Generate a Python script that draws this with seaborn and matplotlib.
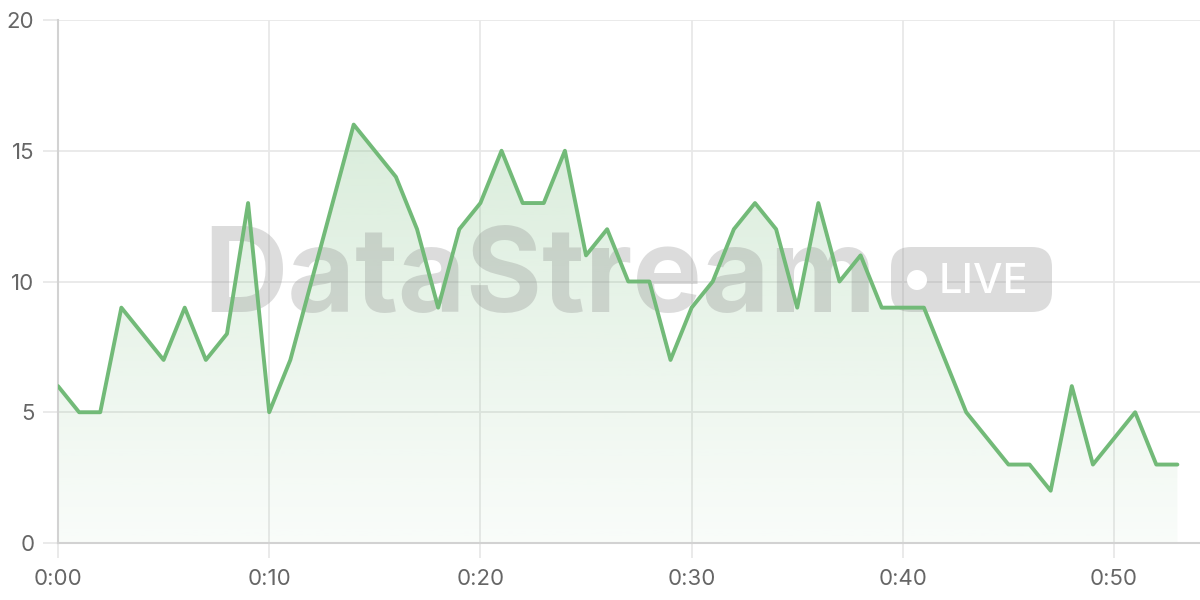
import seaborn as sns
import matplotlib.pyplot as plt
import matplotlib.ticker as mticker
from matplotlib.patches import FancyBboxPatch, Circle
import matplotlib.colors as mcolors
import numpy as np

sns.set_theme(style="white")
plt.rcParams['font.family'] = ['Inter', 'DejaVu Sans']

# data: value per minute
minutes = list(range(54))
values = [6, 5, 5, 9, 8, 7, 9, 7, 8, 13,
          5, 7, 10, 13, 16, 15, 14, 12, 9, 12,
          13, 15, 13, 13, 15, 11, 12, 10, 10, 7,
          9, 10, 12, 13, 12, 9, 13, 10, 11, 9,
          9, 9, 7, 5, 4, 3, 3, 2, 6, 3,
          4, 5, 3, 3]
x_ticks = [0, 10, 20, 30, 40, 50]
y_ticks = [0, 5, 10, 15, 20]

line_color = '#72ba78'
grid_color = '#e8e8e8'

fig = plt.figure(figsize=(12, 6), dpi=100)
ax = fig.add_axes([58 / 1200, 57 / 600, 1 - 58 / 1200, 523 / 600])

# gradient fill under the line
rgb = mcolors.to_rgb(line_color)
alphas = np.linspace(0.04, 0.32, 256)
img = np.zeros((256, 1, 4))
img[:, 0, :3] = rgb
img[:, 0, 3] = alphas
im = ax.imshow(img, extent=[0, 53, 0, 20], origin='lower', aspect='auto', zorder=1)
poly = ax.fill_between(minutes, values, 0, color='none', linewidth=0)
im.set_clip_path(poly.get_paths()[0], transform=ax.transData)

sns.lineplot(x=minutes, y=values, color=line_color, linewidth=2.8, ax=ax, zorder=3)

# watermark
wm_color = (0.5, 0.5, 0.5, 0.27)
ax.text(5.40, 2.88, 'DataStream', transform=fig.dpi_scale_trans, ha='center', va='baseline',
        fontsize=84, fontweight='bold', color=wm_color, zorder=2, clip_on=False)
box = FancyBboxPatch((8.91, 2.88), 1.61, 0.65, boxstyle='round,pad=0,rounding_size=0.2',
                     transform=fig.dpi_scale_trans, facecolor=wm_color, edgecolor='none',
                     zorder=2, clip_on=False)
ax.add_artist(box)
ax.add_artist(Circle((9.17, 3.20), 0.10, transform=fig.dpi_scale_trans, facecolor='white',
                     edgecolor='none', zorder=2.1, clip_on=False))
ax.text(9.39, 3.07, 'LIVE', transform=fig.dpi_scale_trans, ha='left', va='baseline',
        fontsize=30, fontweight='medium', color='white', zorder=2.1, clip_on=False)

ax.set_xlim(0, 54.07)
ax.set_ylim(0, 20)
ax.set_xticks(x_ticks)
ax.set_yticks(y_ticks)
ax.xaxis.set_major_formatter(mticker.FuncFormatter(lambda v, _: f'{int(v) // 60}:{int(v) % 60:02d}'))
ax.set_xlabel('')
ax.set_ylabel('')

ax.grid(True, color=grid_color, linewidth=1.3)
ax.set_axisbelow(True)
ax.tick_params(axis='both', length=11, width=1.3, color=grid_color, labelcolor='#666666',
               labelsize=16)
ax.tick_params(axis='y', pad=6)
ax.tick_params(axis='x', pad=8)
ax.tick_params(left=True, bottom=True)
for side in ['top', 'right']:
    ax.spines[side].set_visible(False)
for side in ['left', 'bottom']:
    ax.spines[side].set_color('#d2d2d2')
    ax.spines[side].set_linewidth(1.5)

fig.savefig('out.png', dpi=100)
